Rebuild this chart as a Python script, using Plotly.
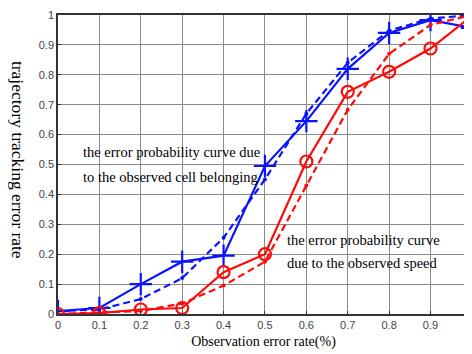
import plotly.graph_objects as go

x_vals = [0, 0.1, 0.2, 0.3, 0.4, 0.5, 0.6, 0.7, 0.8, 0.9, 1.0]
blue_solid = [0.01, 0.02, 0.10, 0.175, 0.195, 0.495, 0.645, 0.82, 0.94, 0.983, 0.957]
blue_dashed = [0.01, 0.015, 0.05, 0.12, 0.255, 0.45, 0.67, 0.84, 0.948, 0.988, 1.0]
red_solid = [0.0, 0.003, 0.015, 0.02, 0.14, 0.20, 0.51, 0.743, 0.81, 0.888, 0.997]
red_dashed = [0.0, 0.004, 0.01, 0.035, 0.095, 0.175, 0.43, 0.683, 0.87, 0.967, 1.0]
tick_vals = [0, 0.1, 0.2, 0.3, 0.4, 0.5, 0.6, 0.7, 0.8, 0.9, 1]
tick_text = ["0", "0.1", "0.2", "0.3", "0.4", "0.5", "0.6", "0.7", "0.8", "0.9", "1"]
label_cell = ["the error probability curve due", "to the observed cell belonging"]
label_speed = ["the error probability curve", "due to the observed speed"]
x_title = "Observation error rate(%)"
y_title = "trajectory tracking error rate"

BLUE = "#0a14ff"
RED = "#ff0a0a"

fig = go.Figure()
fig.add_trace(go.Scatter(x=x_vals, y=blue_dashed, mode="lines+markers",
                         line=dict(color=BLUE, width=2.2, dash="7px,4px"),
                         marker=dict(symbol="circle", size=4, color=BLUE)))
fig.add_trace(go.Scatter(x=x_vals, y=blue_solid, mode="lines+markers",
                         line=dict(color=BLUE, width=2.2),
                         marker=dict(symbol="cross-thin", size=16, color=BLUE,
                                     line=dict(color=BLUE, width=2.2))))
fig.add_trace(go.Scatter(x=x_vals, y=red_dashed, mode="lines+markers",
                         line=dict(color=RED, width=2.2, dash="7px,4px"),
                         marker=dict(symbol="circle", size=4, color=RED)))
fig.add_trace(go.Scatter(x=x_vals, y=red_solid, mode="lines+markers",
                         line=dict(color=RED, width=2.2),
                         marker=dict(symbol="circle-open", size=12, color=RED,
                                     line=dict(color=RED, width=2.2))))

serif = "Liberation Serif, Times New Roman, serif"
for txt, yv in zip(label_cell, [0.542, 0.458]):
    fig.add_annotation(x=0.055, y=yv, xref="x", yref="y", xanchor="left", yanchor="middle",
                       text=txt, showarrow=False, align="left",
                       font=dict(family=serif, size=14.5, color="black"))
for txt, yv in zip(label_speed, [0.247, 0.171]):
    fig.add_annotation(x=0.548, y=yv, xref="x", yref="y", xanchor="left", yanchor="middle",
                       text=txt, showarrow=False, align="left",
                       font=dict(family=serif, size=14.5, color="black"))
# y-axis title reads top-to-bottom in the reference
fig.add_annotation(x=-0.097, y=0.515, xref="paper", yref="paper",
                   xanchor="center", yanchor="middle", textangle=90,
                   text=y_title, showarrow=False,
                   font=dict(family=serif, size=17.5, color="black"))

fig.update_layout(
    width=464, height=346,
    margin=dict(l=50, r=1, t=7, b=40),
    paper_bgcolor="white", plot_bgcolor="white",
    showlegend=False,
    font=dict(family="Liberation Sans, Arial, sans-serif", size=11, color="#333"),
)
fig.update_xaxes(range=[0, 0.993], tickvals=tick_vals, ticktext=tick_text,
                 showgrid=True, gridcolor="#8a8a8a", gridwidth=1,
                 showline=True, linecolor="#333", linewidth=1.5, mirror=True,
                 ticks="inside", ticklen=3, tickcolor="#333", zeroline=False,
                 tickfont=dict(size=11, color="#444"),
                 title=dict(text=x_title, standoff=6,
                            font=dict(family=serif, size=14, color="black")))
fig.update_yaxes(range=[0, 1], tickvals=tick_vals, ticktext=tick_text,
                 showgrid=True, gridcolor="#8a8a8a", gridwidth=1,
                 showline=True, linecolor="#333", linewidth=1.5, mirror=True,
                 ticks="inside", ticklen=3, tickcolor="#333", zeroline=False,
                 tickfont=dict(size=11, color="#444"))

fig.write_html("out.html")
